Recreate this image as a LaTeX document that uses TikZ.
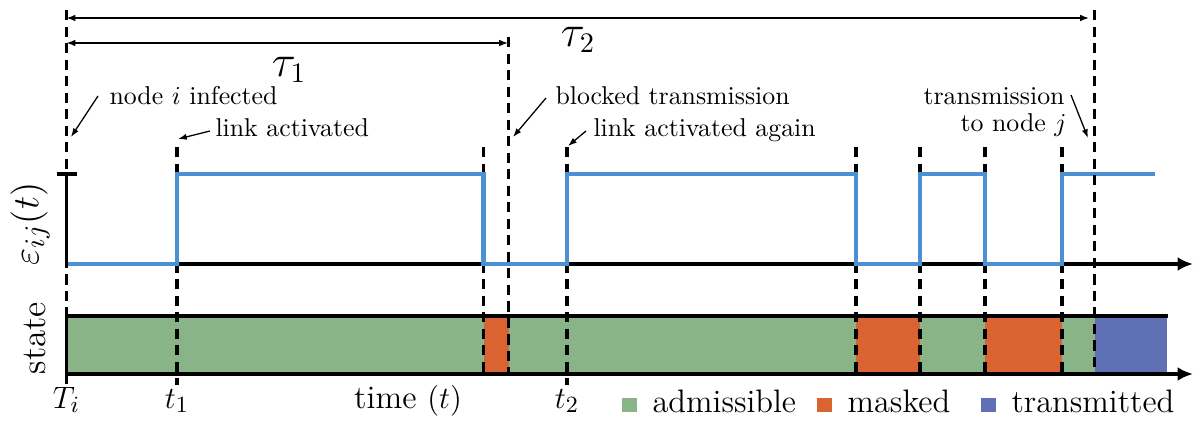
\documentclass[tikz,border=0pt]{standalone}
\usetikzlibrary{arrows.meta}
\definecolor{sigblue}{RGB}{74,144,210}
\definecolor{admgreen}{RGB}{136,180,136}
\definecolor{maskorange}{RGB}{217,100,50}
\definecolor{transblue}{RGB}{96,112,180}
\begin{document}
\begin{tikzpicture}[x=0.3876pt,y=-0.3876pt,
  axisline/.style={line width=1.2pt},
  axisarrow/.style={line width=1.2pt,-{Latex[length=6pt,width=5.4pt]}},
  guide/.style={line width=1.2pt,dash pattern=on 4pt off 2.4pt},
  signal/.style={draw=sigblue,line width=1.6pt},
  spanarrow/.style={line width=0.6pt,{Latex[length=3.4pt,width=2.6pt]}-{Latex[length=3.4pt,width=2.6pt]}},
  note/.style={line width=0.5pt,-{Latex[length=3.4pt,width=2.4pt]}},
  notetxt/.style={inner sep=0pt,anchor=base west,font=\fontsize{10}{12}\selectfont},
  notetxtr/.style={inner sep=0pt,anchor=base east,font=\fontsize{10}{12}\selectfont},
  ticklab/.style={inner sep=0pt,anchor=base,font=\fontsize{12.7}{15}\selectfont},
  legtxt/.style={inner sep=0pt,anchor=base west,font=\fontsize{12.6}{15}\selectfont},
  legsq/.style={inner sep=0pt,minimum size=5.8pt,draw=none},
  taulab/.style={inner sep=0pt,font=\fontsize{16}{19}\selectfont},
]
\useasboundingbox (0,0) rectangle (1199,421);

% state bar fills
\fill[admgreen]   (66.5,316) rectangle (483.5,374);
\fill[maskorange] (483.5,316) rectangle (508.5,374);
\fill[admgreen]   (508.5,316) rectangle (856,374);
\fill[maskorange] (856,316) rectangle (920,374);
\fill[admgreen]   (920,316) rectangle (985,374);
\fill[maskorange] (985,316) rectangle (1062,374);
\fill[admgreen]   (1062,316) rectangle (1094.5,374);
\fill[transblue]  (1094.5,316) rectangle (1167,374);

% guide lines under the signal
\draw[guide] (177,147) -- (177,385);
\draw[guide] (483.5,147) -- (483.5,374);
\draw[guide] (567,147) -- (567,385);
\draw[guide] (856,147) -- (856,374);
\draw[guide] (920,147) -- (920,374);
\draw[guide] (985,147) -- (985,374);
\draw[guide] (1062,147) -- (1062,374);

% axes
\draw[axisline] (57,174) -- (77,174);
\draw[axisline] (66.5,174) -- (66.5,264);
\draw[axisarrow] (66.5,264) -- (1193,264);
\draw[axisline] (66.5,316) -- (1168,316);
\draw[axisline] (66.5,316) -- (66.5,374);
\draw[axisarrow] (66.5,374) -- (1193,374);

% signal
\draw[signal] (66.5,264) -- (177,264) -- (177,174) -- (483.5,174) -- (483.5,264)
  -- (567,264) -- (567,174) -- (856,174) -- (856,264) -- (920,264) -- (920,174)
  -- (985,174) -- (985,264) -- (1062,264) -- (1062,174) -- (1155,174);

% guide lines over the signal
\draw[guide] (66.5,10) -- (66.5,385);
\draw[guide] (508.5,37) -- (508.5,374);
\draw[guide] (1094.5,10) -- (1094.5,374);

% spans
\coordinate (s2a) at (66.5,18);
\coordinate (s2b) at (1089,18);
\coordinate (s1a) at (66.5,43);
\coordinate (s1b) at (508,43);
\draw[spanarrow] (s2a) -- (s2b);
\draw[spanarrow] (s1a) -- (s1b);
\node[taulab] (tau1) at (289,70) {$\tau_1$};
\node[taulab] (tau2) at (578,40) {$\tau_2$};

% axis labels
\node[rotate=90,inner sep=0pt,font=\fontsize{15}{18}\selectfont] (eps) at (30,224) {$\varepsilon_{ij}(t)$};
\node[rotate=90,inner sep=0pt,font=\fontsize{13.5}{16}\selectfont] (state) at (35,338) {state};

% annotations
\node[notetxt] (ninf) at (109,105) {node $i$ infected};
\node[notetxt] (lact) at (215,137) {link activated};
\node[notetxt] (blk) at (555,105) {blocked transmission};
\node[notetxt] (lag) at (593,137) {link activated again};
\node[notetxtr] (trn) at (1065,105) {transmission};
\node[notetxtr] (tnj) at (1067,132) {to node $j$};

\coordinate (a1s) at (98,96);   \coordinate (a1e) at (71,137);
\coordinate (a2s) at (210,131); \coordinate (a2e) at (178,139);
\coordinate (a3s) at (546,98);  \coordinate (a3e) at (513,137);
\coordinate (a4s) at (586,131); \coordinate (a4e) at (568,146);
\coordinate (a5s) at (1071,95); \coordinate (a5e) at (1088,138);
\draw[note] (a1s) -- (a1e);
\draw[note] (a2s) -- (a2e);
\draw[note] (a3s) -- (a3e);
\draw[note] (a4s) -- (a4e);
\draw[note] (a5s) -- (a5e);

% time labels
\node[ticklab] (Ti) at (66.5,408) {$T_i$};
\node[ticklab] (t1) at (177,408) {$t_1$};
\node[ticklab] (tt) at (408,408) {time $(t)$};
\node[ticklab] (t2) at (567,408) {$t_2$};

% legend
\node[legsq,fill=admgreen] (lg1) at (629.5,405) {};
\node[legtxt] (lt1) at (652,412) {admissible};
\node[legsq,fill=maskorange] (lg2) at (824.5,405) {};
\node[legtxt] (lt2) at (847,412) {masked};
\node[legsq,fill=transblue] (lg3) at (988.5,405) {};
\node[legtxt] (lt3) at (1011,412) {transmitted};
\end{tikzpicture}
\end{document}
